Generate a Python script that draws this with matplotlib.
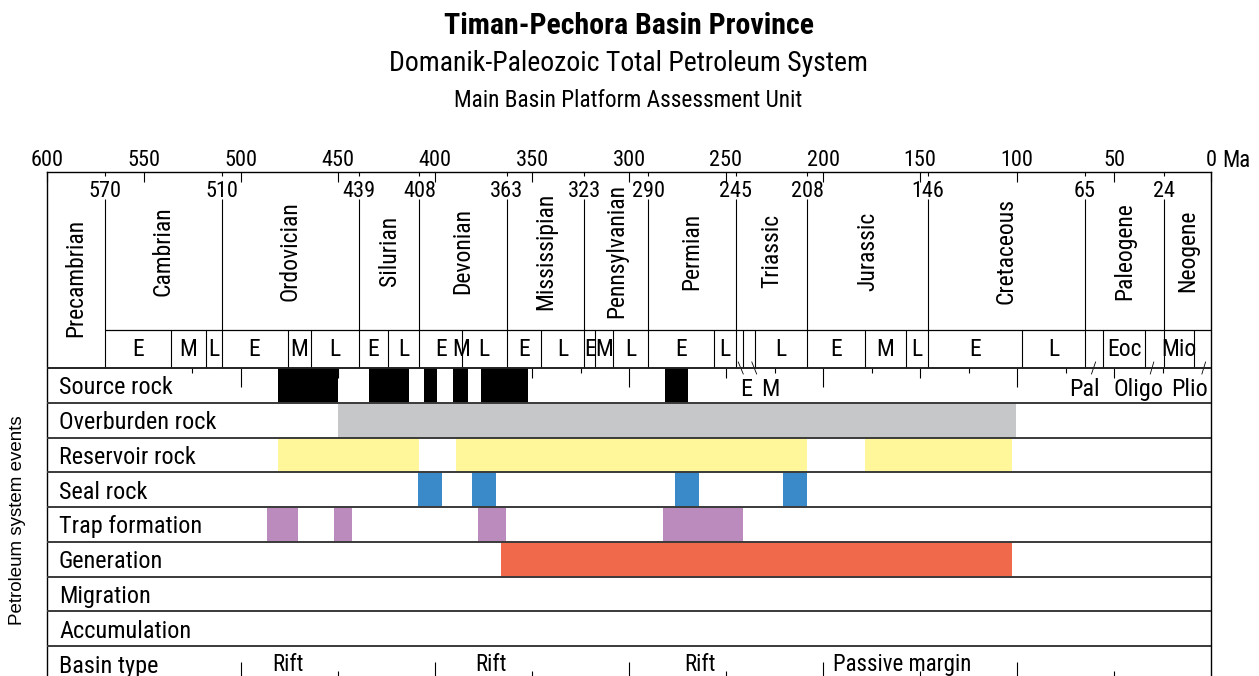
import matplotlib
matplotlib.use('Agg')
import matplotlib.pyplot as plt
from matplotlib import font_manager

names = {f.name for f in font_manager.fontManager.ttflist}
NARROW = next((n for n in ['Liberation Sans Narrow', 'Roboto Condensed', 'DejaVu Sans Condensed', 'Roboto']
               if n in names), 'DejaVu Sans')
REG = 'Liberation Sans' if 'Liberation Sans' in names else 'DejaVu Sans'
plt.rcParams['font.family'] = [NARROW, 'DejaVu Sans']

# ---------------- data ----------------
title = "Timan-Pechora Basin Province"
subtitle = "Domanik-Paleozoic Total Petroleum System"
subsubtitle = "Main Basin Platform Assessment Unit"
ylabel = "Petroleum system events"

ma_ticks = [600, 550, 500, 450, 400, 350, 300, 250, 200, 150, 100, 50, 0]
ma_tick_labels = ["600", "550", "500", "450", "400", "350", "300", "250", "200", "150", "100", "50", "0"]

period_names = ["Precambrian", "Cambrian", "Ordovician", "Silurian", "Devonian", "Mississipian",
                "Pennsylvanian", "Permian", "Triassic", "Jurassic", "Cretaceous", "Paleogene", "Neogene"]
period_bounds = [600, 570, 510, 439, 408, 363, 323, 290, 245, 208, 146, 65, 24, 0]

epoch_lines = [536.3, 518.2, 476, 464, 424.4, 386.2, 345.4, 317.4, 308.1, 256.2,
               241.4, 235.1, 178.4, 157.2, 97.3, 55.5, 34, 8.8]
epoch_label_pos = [553.2, 527.3, 514.1, 493, 470, 451.5, 431.7, 416.2, 397.1, 386.5, 374.6,
                   354.2, 334.2, 320.2, 312.75, 299, 273.1, 250.6, 221.6, 193.2, 167.8, 151.6,
                   121.7, 81.2, 44.75, 16.4]
epoch_label_txt = ["E", "M", "L", "E", "M", "L", "E", "L", "E", "M", "L", "E", "L", "E", "M", "L",
                   "E", "L", "L", "E", "M", "L", "E", "L", "Eoc", "Mio"]

sub_label_pos = [239.8, 227, 65.2, 37.3, 11]
sub_label_txt = ["E", "M", "Pal", "Oligo", "Plio"]
leader_start = [243.7, 236.7, 59.5, 29.5, 2.8]
leader_end = [241.1, 234.2, 61.6, 31.3, 4.7]

event_names = ["Source rock", "Overburden rock", "Reservoir rock", "Seal rock", "Trap formation",
               "Generation", "Migration", "Accumulation", "Basin type"]
source_rock = [(481, 450), (434, 413.3), (405.7, 399.1), (390.8, 382.8), (376.5, 352.3), (281.7, 269.5)]
overburden_rock = [(450, 100.5)]
reservoir_rock = [(481, 408.2), (389.3, 208.4), (178.6, 102.6)]
seal_rock = [(408.9, 396.5), (381.1, 368.7), (276.4, 264), (220.8, 208.4)]
trap_formation = [(486.6, 470.7), (452.2, 443), (377.9, 363.4), (282.5, 241.4)]
generation = [(366.2, 102.8)]
migration = []
accumulation = []

basin_labels = ["Rift", "Rift", "Rift", "Passive margin"]
basin_label_pos = [476, 371, 263.5, 159]

scale_ticks = [525, 500, 475, 450, 425, 400, 375, 350, 325, 300, 275, 250, 225, 200,
               175, 150, 125, 100, 75, 50, 25]

event_colors = ["#000000", "#c6c7c9", "#fff799", "#3a89c9", "#bc8bbe", "#f1694b", "#ffffff", "#ffffff", "#ffffff"]
event_data = [source_rock, overburden_rock, reservoir_rock, seal_rock, trap_formation,
              generation, migration, accumulation, []]

# ---------------- layout (pixel-like y coords) ----------------
W, H = 1259, 676
X0, X1 = 47, 1211
Y_TOP, Y_EPOCH, Y_EVT, Y_BOT = 172, 330, 368, 681
ROW_H = (Y_BOT - Y_EVT) / len(event_names)

fig = plt.figure(figsize=(W / 100, H / 100), dpi=100)
ax = fig.add_axes([X0 / W, (H - Y_BOT) / H, (X1 - X0) / W, (Y_BOT - Y_TOP) / H])
ax.set_xlim(600, 0)
ax.set_ylim(Y_BOT, Y_TOP)

for s in ['left', 'right', 'top']:
    ax.spines[s].set_linewidth(1.0)
    ax.spines[s].set_color('black')
ax.spines['bottom'].set_visible(False)

ax.set_xticks(ma_ticks)
ax.set_xticklabels(ma_tick_labels)
ax.xaxis.tick_top()
ax.tick_params(axis='x', direction='in', length=7.2, width=0.8, pad=0.6, labelsize=16,
               top=True, bottom=False, labeltop=True, labelbottom=False)
ax.set_yticks([])
ax.text(-5.7, Y_TOP - 5, "Ma", fontsize=16.5, ha='left', va='baseline', clip_on=False)

# event bars
for i, (bars, col) in enumerate(zip(event_data, event_colors)):
    top = Y_EVT + i * ROW_H
    if bars:
        ax.broken_barh([(e, s - e) for s, e in bars], (top, ROW_H), facecolors=col,
                       edgecolor='none', zorder=2)
    ax.text(600 - 12 / 1.94, top + 26.3, event_names[i], fontsize=17.5, ha='left',
            va='baseline', zorder=5)

# scale ticks in source-rock row (downward) and basin row (upward)
for t in scale_ticks:
    ln = 19 if t % 100 == 0 else (10 if t % 50 == 0 else 5)
    ax.vlines(t, Y_EVT, Y_EVT + ln, color='black', lw=0.8, zorder=1)
    ax.vlines(t, Y_BOT - ln, Y_BOT, color='black', lw=0.8, zorder=1)

# row lines
ax.hlines(Y_EVT, 600, 0, color='#222222', lw=1.4, zorder=4)
for i in range(1, len(event_names)):
    ax.hlines(Y_EVT + i * ROW_H, 600, 0, color='#3a3a3a', lw=1.4, zorder=4)
ax.hlines(Y_EPOCH, period_bounds[1], 0, color='black', lw=0.9, zorder=4)

# period lines and labels
for b in period_bounds[1:-1]:
    ax.vlines(b, Y_TOP, Y_TOP + 4, color='black', lw=0.8)
    ax.vlines(b, 199, Y_EVT, color='black', lw=0.8)
    ax.text(b, 197.3, str(b), fontsize=16, ha='center', va='baseline')
for k, name in enumerate(period_names):
    cx = (period_bounds[k] + period_bounds[k + 1]) / 2
    cy = 278 if k == 0 else (Y_TOP + Y_EPOCH) / 2
    ax.text(cx, cy, name, rotation=90, fontsize=17, ha='center', va='center')

# epochs
ax.vlines(epoch_lines, Y_EPOCH, Y_EVT, color='black', lw=0.8)
for p, t in zip(epoch_label_pos, epoch_label_txt):
    ax.text(p, 356, t, fontsize=17, ha='center', va='baseline')
for p, t in zip(sub_label_pos, sub_label_txt):
    ax.text(p, 395.5, t, fontsize=17.5, ha='center', va='baseline', zorder=5)
for a, b in zip(leader_start, leader_end):
    ax.plot([a, b], [362, 374], color='black', lw=0.6)

# basin type labels
for p, t in zip(basin_label_pos, basin_labels):
    ax.text(p, 671, t, fontsize=16.5, ha='center', va='baseline')

# titles
fig.text(628.5 / W, 1 - 34 / H, title, fontsize=21.5, fontweight='bold', ha='center', va='baseline')
fig.text(628.5 / W, 1 - 71 / H, subtitle, fontsize=20, ha='center', va='baseline')
fig.text(628.5 / W, 1 - 107 / H, subsubtitle, fontsize=16.8, ha='center', va='baseline')
fig.text(18 / W, 1 - 520 / H, ylabel, rotation=90, fontsize=13.5, family=REG, ha='center', va='center')

fig.savefig('out.png', dpi=100)
